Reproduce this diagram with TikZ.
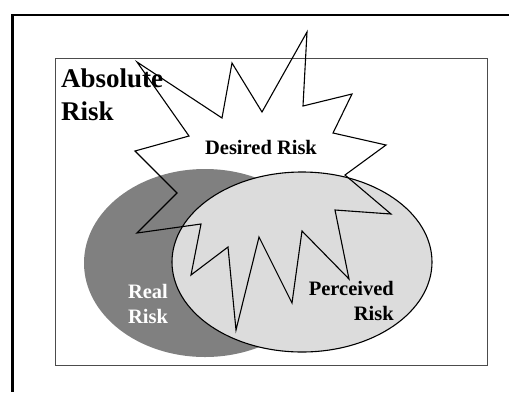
\documentclass[tikz,border=0pt]{standalone}
\usepackage{fontspec}
\setmainfont{Liberation Serif}
\usepackage{tikz}
\definecolor{RealGray}{HTML}{808080}
\definecolor{PerceivedGray}{HTML}{DCDCDC}
\tikzset{%
  RiskLabel/.style={inner sep=0pt,font=\fontsize{20.5}{24.5}\selectfont\bfseries},
  BurstLine/.style={draw=black,line width=1.1pt,line join=miter}
}

\begin{document}
\begin{tikzpicture}[x=1pt,y=-1pt]
  \useasboundingbox (0,0) rectangle (509,392);
  % frames
  \draw[line width=2.2pt] (509,15) -- (12.5,15) -- (12.5,392);
  \draw[black!70,line width=0.9pt] (55,58) rectangle (487.5,365.5);
  \node[RiskLabel,font=\fontsize{27}{33}\selectfont\bfseries,align=left,anchor=base west]
    (absolute) at (61,120) {Absolute\\Risk};
  % risk areas
  \fill[RealGray] (205,263) ellipse [x radius=121pt,y radius=94pt];
  \filldraw[fill=PerceivedGray,draw=black,line width=1.1pt] (302,262) ellipse [x radius=130pt,y radius=90pt];
  \draw[BurstLine] (137,62) -- (222,118) -- (232,63) -- (262,112) -- (307,32)
    -- (303,106) -- (352,94) -- (333,133) -- (386,145) -- (345,175)
    -- (391,214) -- (335,210) -- (349,279) -- (302,231) -- (292,303)
    -- (259,237) -- (236,330) -- (228,247) -- (191,275) -- (201,224)
    -- (137,233) -- (177,193) -- (135,151) -- (189,136) -- cycle;
  \node[RiskLabel,anchor=base] (desired) at (261,154) {Desired Risk};
  \node[RiskLabel,white,align=center,anchor=base] (real) at (148,323) {Real\\Risk};
  \node[RiskLabel,align=right,anchor=base east] (perceived) at (394,320) {Perceived\hspace{6pt}\\Risk};
\end{tikzpicture}
\end{document}
